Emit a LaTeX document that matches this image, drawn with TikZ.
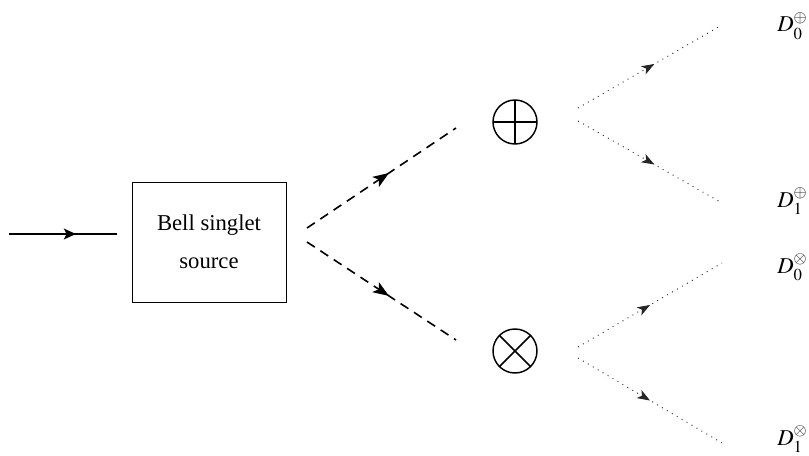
\documentclass[tikz,border=0pt]{standalone}
\usepackage{mathptmx}
\usepackage{fontspec}
\setmainfont{Liberation Serif}
\usepackage{tikz}
\usetikzlibrary{arrows.meta,decorations.markings}

\tikzset{
  midarrow/.style={postaction={decorate},decoration={markings,
      mark=at position #1 with {\arrow{>}}}},
  pumpline/.style={line width=1.6pt,>={Stealth[length=9pt,width=8pt,inset=2pt]}},
  beam/.style={line width=1.2pt,dash pattern=on 7pt off 5pt,>={Stealth[length=12pt,width=9pt,inset=3pt]}},
  ray/.style={line width=0.7pt,dash pattern=on 0.7pt off 3.6pt,black!85,>={Stealth[length=9.5pt,width=7pt,inset=2.5pt]}},
  polar/.style={draw,circle,line width=1.1pt,minimum size=33pt,inner sep=0pt,outer sep=0pt},
  detector/.style={anchor=base west,inner sep=0pt,font=\fontsize{17}{20}\selectfont},
}

\begin{document}
\begin{tikzpicture}[x=0.75pt,y=0.75pt,yscale=-1,xscale=1]
                  \useasboundingbox (0,0) rectangle (809,456);
                  %Shape: Rectangle [source]
                  \node[draw,line width=0.6pt,minimum width=115.5pt,minimum height=90pt,align=center,
                        font=\fontsize{17}{28.5}\selectfont] (source) at (209,242) {Bell singlet\\source};
                  %Shape: Circle [plus]
                  \node[polar] (plus) at (515,122) {};
                  \draw[line width=1.1pt] (plus.north) -- (plus.south) (plus.west) -- (plus.east);
                  %Shape: Circle [cross]
                  \node[polar] (cross) at (515,351) {};
                  \draw[line width=1.1pt] (cross.north west) -- (cross.south east) (cross.north east) -- (cross.south west);

                  % Text Node
                  \node[detector] (d0plus) at (777,32) {$D_0^{\oplus}$};
                  % Text Node
                  \node[detector] (d1plus) at (777,207) {$D_1^{\oplus}$};
                  % Text Node
                  \node[detector] (d0cross) at (777,273) {$D_0^{\otimes}$};
                  % Text Node
                  \node[detector] (d1cross) at (777,445) {$D_1^{\otimes}$};

                  %Points
                  \coordinate (pump) at (9,234);
                  \coordinate (pumpend) at (117,234);
                  \coordinate (emitplus) at (307,228);
                  \coordinate (emitcross) at (307,242);
                  \coordinate (hitplus) at (456,128);
                  \coordinate (hitcross) at (456,340);
                  \coordinate (outplusa) at (578,108);
                  \coordinate (outplusb) at (578,121);
                  \coordinate (outcrossa) at (578,347);
                  \coordinate (outcrossb) at (578,358);
                  \coordinate (endplusa) at (722,25);
                  \coordinate (endplusb) at (722,203);
                  \coordinate (endcrossa) at (722,263);
                  \coordinate (endcrossb) at (722,443);

                  %Straight Lines [pump]
                  \draw[pumpline,midarrow=0.62] (pump) -- (pumpend);
                  %Straight Lines [pairs]
                  \draw[beam,midarrow=0.55] (emitplus) -- (hitplus);
                  \draw[beam,midarrow=0.55] (emitcross) -- (hitcross);
                  %Straight Lines [outputs]
                  \draw[ray,midarrow=0.53] (outplusa) -- (endplusa);
                  \draw[ray,midarrow=0.53] (outplusb) -- (endplusb);
                  \draw[ray,midarrow=0.5] (outcrossa) -- (endcrossa);
                  \draw[ray,midarrow=0.5] (outcrossb) -- (endcrossb);
\end{tikzpicture}
\end{document}
